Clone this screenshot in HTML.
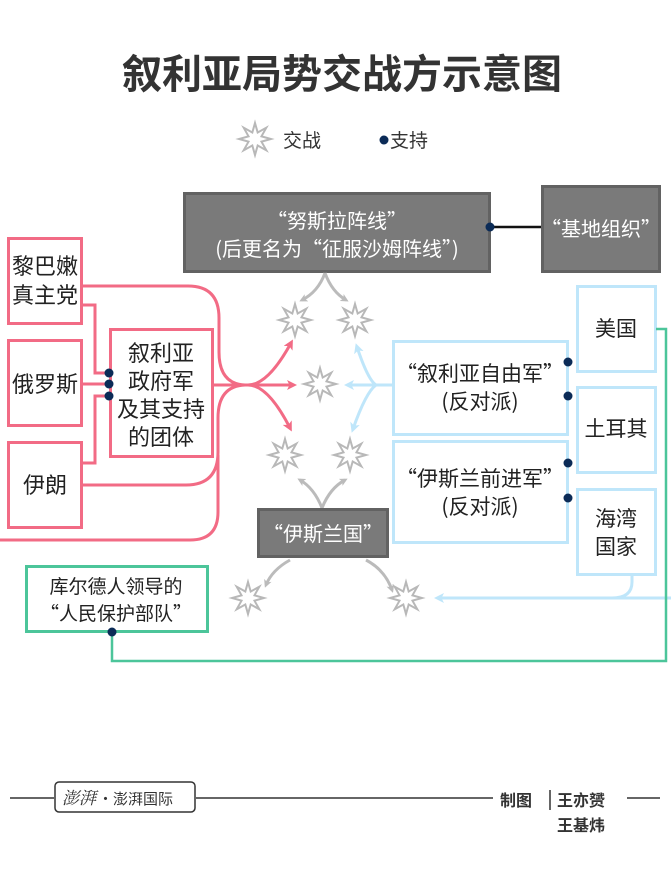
<!DOCTYPE html>
<html><head><meta charset="utf-8"><style>
html,body{margin:0;padding:0;background:#fff;}
svg{display:block;font-family:"Noto Sans CJK SC","Liberation Sans",sans-serif;}
</style></head><body>
<svg width="671" height="883" viewBox="0 0 671 883" xmlns="http://www.w3.org/2000/svg">
<defs>
<symbol id="st" viewBox="-18 -18 36 36" overflow="visible">
<polygon points="0,-16 2.68,-6.47 11.31,-11.31 6.47,-2.68 16,0 6.47,2.68 11.31,11.31 2.68,6.47 0,16 -2.68,6.47 -11.31,11.31 -6.47,2.68 -16,0 -6.47,-2.68 -11.31,-11.31 -2.68,-6.47" fill="#fff" stroke="#b8b8b8" stroke-width="2"/>
</symbol>
<marker id="ag" markerWidth="8" markerHeight="8" refX="5" refY="4" orient="auto" markerUnits="userSpaceOnUse"><path d="M0,0 L8,4 L0,8 L2,4z" fill="#bbb"/></marker>
<marker id="ap" markerWidth="10" markerHeight="10" refX="6" refY="5" orient="auto" markerUnits="userSpaceOnUse"><path d="M0,0 L10,5 L0,10 L2.5,5z" fill="#f26b85"/></marker>
<marker id="ab" markerWidth="10" markerHeight="10" refX="6" refY="5" orient="auto" markerUnits="userSpaceOnUse"><path d="M0,0 L10,5 L0,10 L2.5,5z" fill="#bfe6fa"/></marker>
</defs>

<text x="342" y="88" text-anchor="middle" font-size="40" font-weight="bold" fill="#333">叙利亚局势交战方示意图</text>

<use href="#st" x="237" y="121" width="36" height="36"/>
<text x="283" y="147" font-size="19" fill="#333">交战</text>
<circle cx="384" cy="140" r="4.5" fill="#0b2b57"/>
<text x="390" y="147" font-size="19" fill="#333">支持</text>

<rect x="184.5" y="193.5" width="305" height="78" fill="#7a7a7a" stroke="#626262" stroke-width="3"/>
<text x="337" y="228" text-anchor="middle" font-size="20" fill="#fff">“努斯拉阵线”</text>
<text x="337" y="256" text-anchor="middle" font-size="20" fill="#fff">(后更名为“征服沙姆阵线”)</text>
<line x1="490" y1="227" x2="541" y2="227" stroke="#111" stroke-width="2.5"/>
<circle cx="490" cy="227" r="4.5" fill="#0b2b57"/>
<rect x="542.5" y="186.5" width="117" height="85" fill="#7a7a7a" stroke="#626262" stroke-width="3"/>
<text x="601" y="236" text-anchor="middle" font-size="20" fill="#fff">“基地组织”</text>

<use href="#st" x="277" y="302" width="36" height="36"/>
<use href="#st" x="337" y="302" width="36" height="36"/>
<use href="#st" x="302" y="366" width="36" height="36"/>
<use href="#st" x="267" y="437" width="36" height="36"/>
<use href="#st" x="332" y="437" width="36" height="36"/>
<use href="#st" x="230" y="580" width="36" height="36"/>
<use href="#st" x="388" y="580" width="36" height="36"/>

<g fill="none" stroke="#bbb" stroke-width="3">
<path d="M325,273 Q318,292 302,300" marker-end="url(#ag)"/>
<path d="M325,273 Q332,292 346,300" marker-end="url(#ag)"/>
<path d="M322,508 Q314,488 300,480" marker-end="url(#ag)"/>
<path d="M322,508 Q330,488 345,480" marker-end="url(#ag)"/>
<path d="M290,560 Q272,570 266,585" marker-end="url(#ag)"/>
<path d="M366,560 Q385,570 392,590" marker-end="url(#ag)"/>
</g>

<rect x="258.5" y="509.5" width="129" height="47" fill="#7a7a7a" stroke="#626262" stroke-width="3"/>
<text x="323" y="541" text-anchor="middle" font-size="20" fill="#fff">“伊斯兰国”</text>

<g fill="none" stroke="#f26b85" stroke-width="3">
<path d="M82,286 H188 Q219,286 219,318 V352 Q219,384 245,385"/>
<path d="M82,485 H186 Q218,485 218,452 V418 Q218,386 245,385"/>
<path d="M218,455 V512 Q218,540 190,540 H0"/>
<path d="M82,305 H95 V373 H109"/>
<path d="M82,384 H109"/>
<path d="M82,463 H95 V396 H109"/>
<path d="M213,385 H248"/>
<path d="M248,385 Q268,385 291,343" marker-end="url(#ap)"/>
<path d="M248,385 H293" marker-end="url(#ap)"/>
<path d="M248,385 Q268,385 290,428" marker-end="url(#ap)"/>
</g>
<g fill="#fff" stroke="#f26b85" stroke-width="3">
<rect x="8.5" y="238.5" width="73" height="85"/>
<rect x="8.5" y="340.5" width="73" height="85"/>
<rect x="8.5" y="442.5" width="73" height="85"/>
<rect x="110.5" y="329.5" width="102" height="127"/>
</g>
<g font-size="22" fill="#222" text-anchor="middle">
<text x="45" y="274">黎巴嫩</text><text x="45" y="303">真主党</text>
<text x="45" y="392">俄罗斯</text>
<text x="45" y="493">伊朗</text>
<text x="161" y="361">叙利亚</text><text x="161" y="389">政府军</text><text x="161" y="417">及其支持</text><text x="161" y="445">的团体</text>
</g>
<circle cx="109" cy="373" r="4.5" fill="#0b2b57"/>
<circle cx="109" cy="384" r="4.5" fill="#0b2b57"/>
<circle cx="109" cy="396" r="4.5" fill="#0b2b57"/>

<g fill="none" stroke="#bfe6fa" stroke-width="3">
<path d="M392,385 H376"/>
<path d="M376,385 H348" marker-end="url(#ab)"/>
<path d="M376,385 Q368,380 357,347" marker-end="url(#ab)"/>
<path d="M376,385 Q366,392 353,429" marker-end="url(#ab)"/>
<path d="M632,574 V582 Q632,598 612,598 H438" marker-end="url(#ab)"/>
<path d="M612,598 H671"/>
</g>
<g fill="#fff" stroke="#bfe6fa" stroke-width="3">
<rect x="393.5" y="341.5" width="174" height="93"/>
<rect x="393.5" y="441.5" width="174" height="101"/>
<rect x="577.5" y="286.5" width="78" height="85"/>
<rect x="577.5" y="387.5" width="78" height="85"/>
<rect x="577.5" y="489.5" width="78" height="85"/>
</g>
<g font-size="21" fill="#222" text-anchor="middle">
<text x="480" y="381">“叙利亚自由军”</text><text x="480" y="409">(反对派)</text>
<text x="480" y="486">“伊斯兰前进军”</text><text x="480" y="514">(反对派)</text>
<text x="616" y="336">美国</text>
<text x="616" y="436">土耳其</text>
<text x="616" y="526">海湾</text><text x="616" y="554">国家</text>
</g>
<circle cx="568" cy="362" r="4.5" fill="#0b2b57"/>
<circle cx="568" cy="396" r="4.5" fill="#0b2b57"/>
<circle cx="568" cy="463" r="4.5" fill="#0b2b57"/>
<circle cx="568" cy="498" r="4.5" fill="#0b2b57"/>

<path d="M656,329 H666 V661 H112 V632" fill="none" stroke="#4cc59a" stroke-width="2.5"/>
<rect x="26.5" y="566.5" width="181" height="65" fill="#fff" stroke="#4cc59a" stroke-width="3"/>
<text x="116" y="593" text-anchor="middle" font-size="19" fill="#222">库尔德人领导的</text>
<text x="116" y="620" text-anchor="middle" font-size="19" fill="#222">“人民保护部队”</text>
<circle cx="112" cy="632" r="4.5" fill="#0b2b57"/>

<g stroke="#333" stroke-width="1.5">
<line x1="10" y1="798" x2="54" y2="798"/>
<line x1="196" y1="798" x2="493" y2="798"/>
<line x1="627" y1="798" x2="660" y2="798"/>
<line x1="550" y1="790" x2="550" y2="810"/>
</g>
<rect x="55" y="782" width="140" height="30" rx="4" fill="#fff" stroke="#333" stroke-width="1.5"/>
<text x="62" y="804" font-size="17" fill="#333" font-style="italic" font-family="'Noto Serif CJK SC',serif">澎湃</text>
<text x="98" y="804" font-size="15" fill="#333">·澎湃国际</text>
<text x="500" y="806" font-size="16" font-weight="bold" fill="#333">制图</text>
<text x="557" y="806" font-size="16" font-weight="bold" fill="#333">王亦赟</text>
<text x="557" y="831" font-size="16" font-weight="bold" fill="#333">王基炜</text>
</svg>
</body></html>
